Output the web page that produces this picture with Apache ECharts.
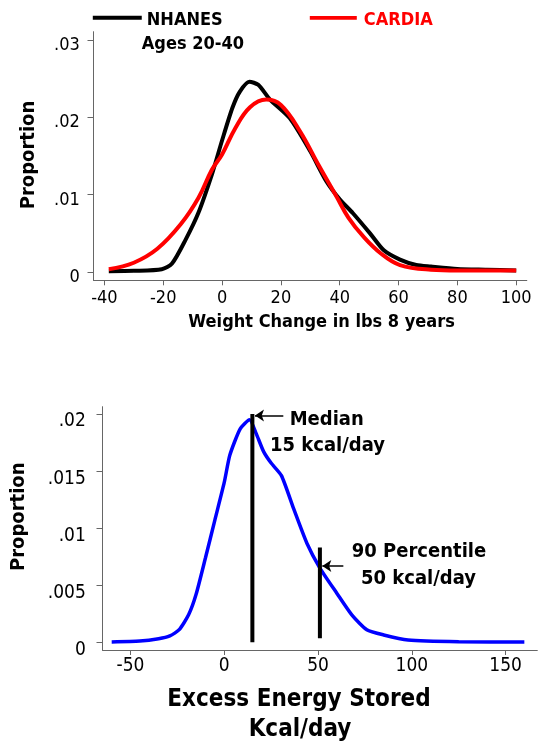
<!DOCTYPE html>
<html>
<head>
<meta charset="utf-8">
<script src="https://cdn.jsdelivr.net/npm/echarts@6/dist/echarts.min.js"></script>
<style>
html,body{margin:0;padding:0;background:#fff;}
#chart{width:549px;height:753px;}
</style>
</head>
<body>
<div id="chart"></div>
<script>
// ---- Top panel: weight change distributions ----
const nhanesX = [-38.5, -30, -20.5, -17, -12.5, -8, -3.3, 0, 3.5, 6, 9.3, 12.3, 16.3, 23, 30, 35.5, 40, 44.5, 50.3, 55, 60.5, 66, 71, 80, 90, 100];
const nhanesY = [0.0001, 0.00015, 0.00035, 0.0011, 0.0041, 0.0077, 0.0128, 0.0170, 0.0212, 0.0233, 0.0246, 0.0242, 0.0223, 0.0199, 0.0156, 0.0117, 0.0094, 0.0076, 0.0050, 0.0028, 0.0016, 0.0009, 0.0007, 0.0004, 0.0003, 0.0002];
const cardiaX = [-38.5, -30, -22, -14, -8, -3.5, 0, 4.5, 9.5, 15, 20, 26.5, 33, 39, 43, 48, 54, 60.5, 71, 80, 100];
const cardiaY = [0.00035, 0.0012, 0.0030, 0.0062, 0.0096, 0.0132, 0.0152, 0.0186, 0.0213, 0.0223, 0.0216, 0.0182, 0.0137, 0.0097, 0.0070, 0.0046, 0.0024, 0.0009, 0.0003, 0.0002, 0.0002];
const topXTicks = [-40, -20, 0, 20, 40, 60, 80, 100];
const topYTicks = [0, 0.01, 0.02, 0.03];

// ---- Bottom panel: excess energy stored ----
const energyX = [-60, -45, -35, -29, -24, -19, -15, -10, -5, 0, 3, 8.5, 13.5, 17, 21, 25, 30.5, 37, 44, 51, 60, 68, 76, 85, 98, 125, 160];
const energyY = [0.00003, 0.0001, 0.0003, 0.00055, 0.0011, 0.0024, 0.0042, 0.0074, 0.0107, 0.0140, 0.0164, 0.0187, 0.0195, 0.0183, 0.0167, 0.0157, 0.0146, 0.0117, 0.0087, 0.0065, 0.0043, 0.0024, 0.0011, 0.00064, 0.0002, 0.00005, 0.00002];
const bottomXTicks = [-50, 0, 50, 100, 150];
const bottomYTicks = [0, 0.005, 0.01, 0.015, 0.02];
const medianX = 15, medianBottom = 0, medianTop = 0.02;
const p90X = 51, p90Bottom = 0.00035, p90Top = 0.0083;
const medianArrow = [[16.4, 0.01986], [31.5, 0.01986]];
const p90Arrow = [[52.3, 0.00667], [63.5, 0.00667]];

const FONT = "'DejaVu Sans Condensed', 'DejaVu Sans', sans-serif";
const AXIS_COLOR = '#666';
const fmt = v => v === 0 ? '0' : String(+v.toFixed(4)).replace(/^0\./, '.');
const zip = (xs, ys) => xs.map((x, i) => [x, ys[i]]);
// legend line icon drawn in the upper part of its box so the text sits slightly lower
const LEGEND_ICON = 'path://M0,0H49V4H0Z M0,10h0.01v0.01h-0.01Z';

const chart = echarts.init(document.getElementById('chart'), null, {renderer: 'canvas'});

function xAxisCfg(grid, min, max, ticks, margin, size) {
  return {
    type: 'value', gridIndex: grid, min: min, max: max,
    splitLine: {show: false},
    axisLine: {show: true, onZero: false, lineStyle: {color: AXIS_COLOR, width: 1}},
    axisTick: {show: true, length: 5, customValues: ticks, lineStyle: {color: AXIS_COLOR}},
    axisLabel: {customValues: ticks, margin: margin, color: '#000', fontSize: size, fontFamily: FONT, formatter: v => String(v)}
  };
}
function yAxisCfg(grid, min, max, ticks, margin, size, lh) {
  return {
    type: 'value', gridIndex: grid, min: min, max: max,
    splitLine: {show: false},
    axisLine: {show: true, onZero: false, lineStyle: {color: AXIS_COLOR, width: 1}},
    axisTick: {show: true, length: 6, customValues: ticks, lineStyle: {color: AXIS_COLOR}},
    axisLabel: {customValues: ticks, margin: margin, color: '#000', fontSize: size, fontFamily: FONT,
      verticalAlign: 'top', lineHeight: lh, formatter: fmt}
  };
}

const boldText = (x, y, text, size, color, align) => ({
  type: 'text', x: x, y: y,
  style: {text: text, fill: color || '#000', font: `bold ${size}px ${FONT}`, textAlign: align || 'center', textVerticalAlign: 'middle'}
});

const option = {
  animation: false,
  backgroundColor: '#fff',
  grid: [
    {left: 93.5, right: 22.2, top: 31.7, height: 248.6},
    {left: 102.5, right: 11.7, top: 406.7, height: 243.3}
  ],
  xAxis: [
    xAxisCfg(0, -43.7, 103.6, topXTicks, 9, 18),
    xAxisCfg(1, -64.9, 166.9, bottomXTicks, 7, 19)
  ],
  yAxis: [
    yAxisCfg(0, -0.00107, 0.03107, topYTicks, 13.7, 18, 11),
    yAxisCfg(1, -0.00068, 0.02064, bottomYTicks, 16.7, 19, 15)
  ],
  legend: [
    {data: ['NHANES'], left: 92.8, top: 10.7, padding: 0, icon: LEGEND_ICON, itemWidth: 49, itemHeight: 10,
      textStyle: {fontFamily: FONT, fontWeight: 'bold', fontSize: 18, color: '#000', lineHeight: 20}},
    {data: ['CARDIA'], left: 309.8, top: 10.7, padding: 0, icon: LEGEND_ICON, itemWidth: 47, itemHeight: 10,
      textStyle: {fontFamily: FONT, fontWeight: 'bold', fontSize: 18, color: '#ff0000', lineHeight: 20, padding: [0, 0, 0, 2]}}
  ],
  series: [
    {name: 'NHANES', type: 'line', xAxisIndex: 0, yAxisIndex: 0, data: zip(nhanesX, nhanesY),
      showSymbol: false, symbol: 'none', smooth: 0.25, itemStyle: {color: '#000'}, lineStyle: {color: '#000', width: 4}, z: 3},
    {name: 'CARDIA', type: 'line', xAxisIndex: 0, yAxisIndex: 0, data: zip(cardiaX, cardiaY),
      showSymbol: false, symbol: 'none', smooth: 0.4, itemStyle: {color: '#ff0000'}, lineStyle: {color: '#ff0000', width: 4}, z: 4},
    {name: 'Energy', type: 'line', xAxisIndex: 1, yAxisIndex: 1, data: zip(energyX, energyY),
      showSymbol: false, symbol: 'none', smooth: 0.2, lineStyle: {color: '#0000ff', width: 3.5}, z: 3},
    {name: 'Median', type: 'line', xAxisIndex: 1, yAxisIndex: 1, data: [[medianX, medianBottom], [medianX, medianTop]],
      showSymbol: false, symbol: 'none', lineStyle: {color: '#000', width: 4}, z: 4,
      markLine: {silent: true, symbol: ['arrow', 'none'], symbolSize: [9, 9], label: {show: false},
        lineStyle: {color: '#000', width: 1.5, type: 'solid'},
        data: [[{coord: medianArrow[0]}, {coord: medianArrow[1]}], [{coord: p90Arrow[0]}, {coord: p90Arrow[1]}]]}},
    {name: 'P90', type: 'line', xAxisIndex: 1, yAxisIndex: 1, data: [[p90X, p90Bottom], [p90X, p90Top]],
      showSymbol: false, symbol: 'none', lineStyle: {color: '#000', width: 4}, z: 4}
  ],
  graphic: [
    boldText(141.8, 44, 'Ages 20-40', 18, '#000', 'left'),
    boldText(321.6, 322.3, 'Weight Change in lbs 8 years', 18),
    {type: 'text', x: 29, y: 155, rotation: Math.PI / 2,
      style: {text: 'Proportion', fill: '#000', font: `bold 20px ${FONT}`, textAlign: 'center', textVerticalAlign: 'middle'}},
    {type: 'text', x: 19, y: 516.7, rotation: Math.PI / 2,
      style: {text: 'Proportion', fill: '#000', font: `bold 20px ${FONT}`, textAlign: 'center', textVerticalAlign: 'middle'}},
    boldText(299, 700, 'Excess Energy Stored', 24),
    boldText(300, 730, 'Kcal/day', 24),
    boldText(326.7, 419.3, 'Median', 20),
    boldText(327.5, 446, '15 kcal/day', 20),
    boldText(419, 551.7, '90 Percentile', 20),
    boldText(418.5, 578.3, '50 kcal/day', 20)
  ]
};
chart.setOption(option);
</script>
</body>
</html>
